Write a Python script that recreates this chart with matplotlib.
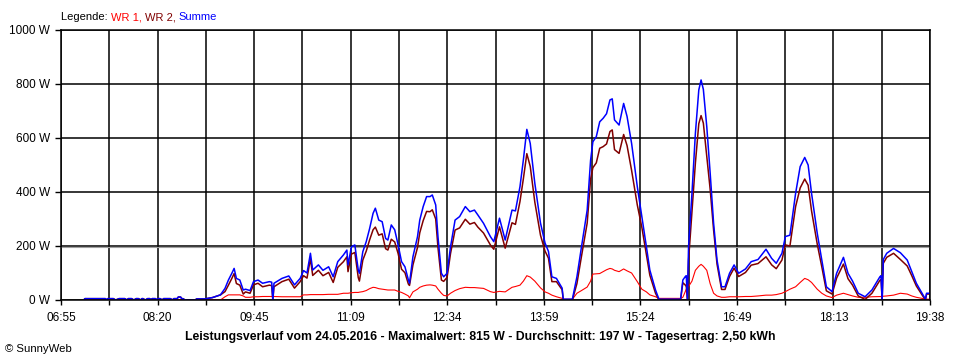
import matplotlib.pyplot as plt
import numpy as np

plt.rcParams['font.family'] = ['Liberation Sans', 'DejaVu Sans']

# Leistungsverlauf 24.05.2016, Werte in W
zeit = ['07:15', '07:16', '07:34', '07:35', '07:36', '07:41', '07:43', '07:46', '07:51', '07:53',
        '07:54', '07:57', '07:59', '08:01', '08:03', '08:05', '08:06', '08:07', '08:09', '08:11',
        '08:13', '08:14', '08:15', '08:18', '08:19', '08:20', '08:22', '08:24', '08:25', '08:31',
        '08:33', '08:34', '08:37', '08:38', '08:40', '08:41', '08:42', '08:44', '08:53', '08:54',
        '09:01', '09:08', '09:15', '09:19', '09:22', '09:25', '09:27', '09:29', '09:32', '09:35',
        '09:37', '09:41', '09:44', '09:48', '09:52', '09:58', '10:00', '10:01', '10:02', '10:09',
        '10:15', '10:20', '10:25', '10:28', '10:31', '10:34', '10:36', '10:41', '10:45', '10:50',
        '10:54', '10:58', '11:03', '11:06', '11:07', '11:10', '11:13', '11:16', '11:17', '11:20',
        '11:23', '11:26', '11:29', '11:31', '11:34', '11:37', '11:40', '11:42', '11:45', '11:48',
        '11:51', '11:54', '11:57', '12:00', '12:01', '12:04', '12:08', '12:10', '12:13', '12:16',
        '12:19', '12:21', '12:24', '12:26', '12:29', '12:31', '12:34', '12:37', '12:41', '12:45',
        '12:50', '12:54', '12:58', '13:01', '13:06', '13:12', '13:15', '13:20', '13:25', '13:31',
        '13:34', '13:38', '13:41', '13:44', '13:47', '13:51', '13:56', '14:00', '14:03', '14:06',
        '14:10', '14:15', '14:16', '14:24', '14:28', '14:32', '14:37', '14:40', '14:42', '14:45',
        '14:48', '14:51', '14:54', '14:57', '14:59', '15:01', '15:05', '15:09', '15:12', '15:16',
        '15:21', '15:25', '15:29', '15:32', '15:37', '15:40', '15:59', '16:01', '16:03', '16:04',
        '16:05', '16:06', '16:09', '16:12', '16:15', '16:17', '16:19', '16:22', '16:25', '16:28',
        '16:31', '16:35', '16:38', '16:42', '16:46', '16:50', '16:56', '17:01', '17:07', '17:14',
        '17:19', '17:23', '17:28', '17:31', '17:35', '17:40', '17:44', '17:48', '17:51', '17:54',
        '17:59', '18:03', '18:07', '18:12', '18:16', '18:22', '18:26', '18:30', '18:35', '18:41',
        '18:47', '18:54', '18:55', '18:56', '18:57', '19:00', '19:06', '19:12', '19:18', '19:22',
        '19:26', '19:31', '19:34', '19:35', '19:38']

summe = [0, 5, 5, 0, 5, 5, 0, 5, 5, 0,
         5, 5, 0, 5, 5, 0, 5, 5, 0, 5,
         5, 0, 5, 5, 0, 5, 5, 0, 5, 5,
         0, 5, 5, 11, 11, 5, 5, 0, 0, 4,
         4, 9, 19, 43, 74, 99, 117, 80, 74, 37,
         40, 35, 68, 74, 62, 68, 66, 0, 62, 80,
         89, 56, 80, 109, 100, 173, 111, 130, 110, 123,
         86, 142, 167, 185, 130, 197, 204, 111, 99, 179,
         216, 265, 321, 340, 296, 290, 228, 222, 278, 260,
         204, 142, 123, 74, 62, 160, 234, 296, 346, 383,
         383, 389, 352, 234, 99, 86, 99, 197, 296, 309,
         346, 327, 333, 315, 284, 235, 216, 303, 222, 333,
         330, 420, 520, 632, 580, 433, 285, 211, 180, 86,
         80, 44, 3, 3, 86, 197, 333, 518, 586, 605,
         660, 673, 690, 741, 745, 667, 648, 728, 680, 580,
         420, 309, 197, 111, 37, 3, 3, 74, 86, 90,
         0, 197, 395, 617, 778, 815, 780, 642, 469, 284,
         148, 49, 49, 99, 130, 99, 115, 142, 150, 188,
         154, 136, 173, 235, 240, 395, 494, 528, 500, 395,
         247, 148, 49, 31, 99, 158, 99, 70, 25, 12,
         37, 86, 90, 0, 150, 173, 191, 175, 148, 105,
         62, 25, 3, 25, 25]

wr1 = [0, 0, 0, 0, 0, 0, 0, 0, 0, 0,
       0, 0, 0, 0, 0, 0, 0, 0, 0, 0,
       0, 0, 0, 0, 0, 0, 0, 0, 0, 0,
       0, 0, 0, 0, 0, 0, 0, 0, 0, 0,
       0, 0, 0, 12, 19, 19, 19, 19, 19, 15,
       10, 10, 12, 12, 13, 13, 13, 13, 13, 12,
       12, 12, 12, 19, 19, 20, 20, 20, 20, 21,
       21, 21, 25, 25, 25, 27, 28, 28, 29, 31,
       35, 42, 47, 46, 42, 40, 38, 37, 37, 37,
       32, 28, 22, 15, 8, 30, 40, 47, 52, 55,
       56, 55, 52, 40, 25, 17, 15, 25, 35, 42,
       47, 46, 46, 45, 43, 31, 28, 32, 30, 47,
       50, 55, 70, 90, 85, 70, 45, 30, 25, 18,
       12, 6, 3, 3, 25, 35, 48, 70, 96, 97,
       98, 105, 112, 117, 115, 110, 105, 115, 108, 100,
       68, 40, 30, 19, 12, 6, 6, 10, 30, 40,
       45, 50, 70, 110, 125, 132, 125, 110, 60, 25,
       15, 10, 10, 12, 12, 12, 13, 13, 15, 18,
       18, 20, 25, 31, 40, 49, 65, 80, 75, 65,
       40, 25, 15, 9, 18, 25, 20, 15, 10, 10,
       12, 13, 13, 13, 14, 15, 18, 25, 22, 15,
       10, 6, 3, 3, 3]

wr2 = [0, 5, 5, 0, 5, 5, 0, 5, 5, 0,
       5, 5, 0, 5, 5, 0, 5, 5, 0, 5,
       5, 0, 5, 5, 0, 5, 5, 0, 5, 5,
       0, 5, 5, 11, 11, 5, 5, 0, 0, 4,
       4, 9, 19, 31, 55, 80, 98, 61, 55, 22,
       30, 25, 56, 62, 49, 55, 53, 0, 49, 68,
       77, 44, 68, 90, 81, 153, 91, 110, 90, 102,
       65, 121, 142, 160, 105, 170, 176, 83, 70, 148,
       181, 223, 260, 270, 240, 245, 190, 185, 225, 215,
       172, 114, 101, 59, 54, 130, 194, 249, 294, 328,
       327, 334, 300, 194, 74, 69, 84, 172, 259, 267,
       299, 281, 287, 270, 248, 204, 188, 271, 192, 286,
       280, 365, 450, 542, 495, 363, 240, 181, 155, 68,
       68, 38, 0, 0, 61, 162, 285, 448, 490, 508,
       562, 568, 578, 624, 630, 557, 543, 613, 572, 480,
       352, 269, 167, 92, 25, 0, 0, 64, 56, 50,
       0, 147, 325, 507, 653, 683, 655, 532, 409, 259,
       133, 39, 39, 87, 118, 87, 102, 129, 135, 160,
       130, 116, 148, 204, 200, 346, 415, 448, 425, 330,
       207, 123, 34, 22, 81, 133, 79, 55, 15, 2,
       25, 73, 77, 0, 136, 158, 173, 150, 126, 90,
       52, 19, 0, 22, 22]

x_labels = ['06:55', '08:20', '09:45', '11:09', '12:34', '13:59', '15:24', '16:49', '18:13', '19:38']
y_werte = [0, 200, 400, 600, 800, 1000]


def minuten(t):
    h, m = t.split(':')
    return int(h) * 60 + int(m)


t = np.array([minuten(z) for z in zeit])
t_start = minuten(x_labels[0])
t_ende = minuten(x_labels[-1])

fig = plt.figure(figsize=(9.6, 3.6), dpi=100)
ax = fig.add_axes([61 / 960, 60 / 360, 869 / 960, 270 / 360])

ax.plot(t, wr1, color='#ff0000', lw=0.8, zorder=2)
ax.plot(t, wr2, color='#800000', lw=1.1, zorder=2)
ax.plot(t, summe, color='#0000ff', lw=1.1, zorder=2)

ax.set_xlim(t_start, t_ende)
ax.set_ylim(0, 1000)

xticks = np.linspace(t_start, t_ende, 19)
ax.set_xticks(xticks)
ax.set_xticklabels([x_labels[i // 2] if i % 2 == 0 else '' for i in range(19)])
ax.set_yticks(y_werte)
ax.set_yticklabels(['%d W' % v for v in y_werte])

ax.grid(True, color='black', lw=1.1, zorder=1)
ax.set_axisbelow(True)
ax.axhline(196, color='#a0a0a0', lw=0.8, zorder=1)
for s in ax.spines.values():
    s.set_color('black')
    s.set_linewidth(1.1)
ax.tick_params(axis='x', direction='out', length=3.6, width=1, pad=5, labelsize=8.5)
ax.tick_params(axis='y', direction='out', length=4.3, width=1, pad=3.5, labelsize=8.5)

# Legende oben links, mehrfarbig
teile = [('Legende: ', 'black'), ('WR 1, ', '#ff0000'), ('WR 2, ', '#800000'), ('Summe', '#0000ff')]
fig.canvas.draw()
r = fig.canvas.get_renderer()
x = 61
for txt, farbe in teile:
    tt = fig.text(x / 960, 1 - 17 / 360, txt, color=farbe, fontsize=8, va='center', ha='left')
    x += tt.get_window_extent(r).width

fig.text(480 / 960, 1 - 337 / 360,
         'Leistungsverlauf vom 24.05.2016 - Maximalwert: 815 W - Durchschnitt: 197 W - Tagesertrag: 2,50 kWh',
         ha='center', va='center', fontsize=8.8, fontweight='bold')
fig.text(5 / 960, 1 - 349 / 360, '\u00a9 SunnyWeb', ha='left', va='center', fontsize=8.2)

fig.savefig('out.png', dpi=100, facecolor='white')
